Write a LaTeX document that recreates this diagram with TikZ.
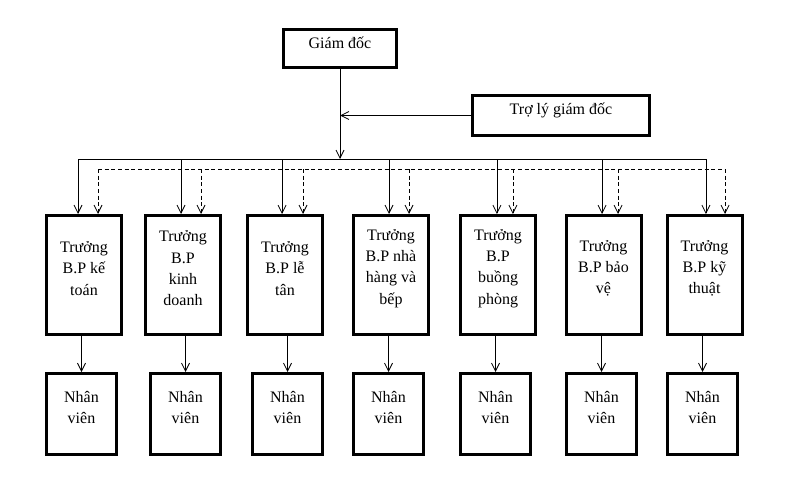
\documentclass[tikz,border=0pt]{standalone}
\usepackage{fontspec}
\setmainfont{Liberation Serif}
\usetikzlibrary{arrows.meta}

\begin{document}
\begin{tikzpicture}[x=0.75pt,y=-0.75pt,
  every node/.style={font=\fontsize{12}{16}\selectfont},
  box/.style={draw, line width=2.25pt, inner sep=0pt},
  head/.style={box, minimum width=84.75pt, minimum height=28.5pt},
  dept/.style={box, minimum width=56.25pt, minimum height=89.25pt},
  staff/.style={box, minimum width=52.5pt, minimum height=60.75pt},
  txt/.style={align=center, yshift=5pt},
  link/.style={line width=0.6pt},
  >={Straight Barb[length=6pt,width=6pt]}]
\useasboundingbox (0,0) rectangle (802,478);
\node[head, label={[txt, yshift=-1pt]center:Giám đốc}] (GD) at (340,48.5) {};
\node[box, minimum width=132.75pt, minimum height=30pt,
  label={[txt, yshift=-1pt]center:Trợ lý giám đốc}] (TL) at (561,115.5) {};
\coordinate (BUS) at (0,159);
\coordinate (DBUS) at (0,169);
% truong bo phan
\node[dept, label={[txt]center:{Trưởng\\B.P kế\\toán}}] (TB1) at (84,275) {};
\node[dept, label={[txt]center:{Trưởng\\B.P\\kinh\\doanh}}] (TB2) at (183,275) {};
\node[dept, label={[txt]center:{Trưởng\\B.P lễ\\tân}}] (TB3) at (285,275) {};
\node[dept, label={[txt]center:{Trưởng\\B.P nhà\\hàng và\\bếp}}] (TB4) at (391,275) {};
\node[dept, label={[txt]center:{Trưởng\\B.P\\buồng\\phòng}}] (TB5) at (498,275) {};
\node[dept, label={[txt]center:{Trưởng\\B.P bảo\\vệ}}] (TB6) at (603.5,275) {};
\node[dept, label={[txt]center:{Trưởng\\B.P kỹ\\thuật}}] (TB7) at (704.5,275) {};
% nhan vien
\foreach \i/\x in {1/81.5, 2/185.5, 3/287.5, 4/388.5, 5/495.5, 6/601.5, 7/702.5}
  \node[staff, label={[txt]center:{Nhân\\viên}}] (NV\i) at (\x,414) {};
\draw[link, ->] (GD) to (GD |- BUS);
\draw[link, ->] (TL) to (GD |- TL);
\draw[link] ([xshift=-4.5pt]TB1.north |- BUS) -- ([xshift=1.1pt]TB7.north |- BUS);
\draw[link, dash pattern=on 3pt off 2pt] ([xshift=10.5pt]TB1.north |- DBUS) -- ([xshift=15.4pt]TB7.north |- DBUS);
\foreach \i/\s/\d in {1/-4.5/10.5, 2/-1.5/13.5, 3/-2.2/13.5, 4/-1.5/13.5, 5/-0.8/11.2, 6/-1.1/10.9, 7/1.1/15.4} {
  \draw[link, ->] ([xshift=\s pt]TB\i.north |- BUS) -- ([xshift=\s pt]TB\i.north);
  \draw[link, ->, dash pattern=on 3pt off 2pt] ([xshift=\d pt]TB\i.north |- DBUS) -- ([xshift=\d pt]TB\i.north);
  \draw[link, ->] (TB\i.south -| NV\i.north) -- (NV\i.north);
}
\end{tikzpicture}
\end{document}
